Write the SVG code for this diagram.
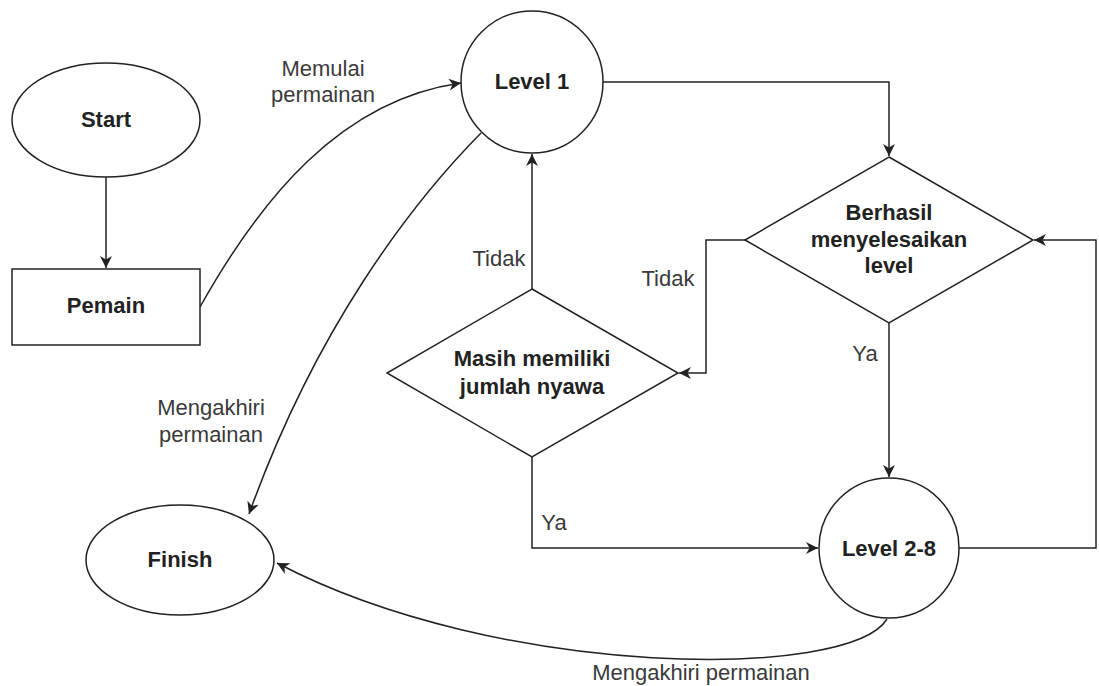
<svg xmlns="http://www.w3.org/2000/svg" width="1099" height="686" viewBox="0 0 1099 686">
<style>
.shape{fill:#fff;stroke:#222;stroke-width:1.5}
.edge{fill:none;stroke:#222;stroke-width:1.5}
.node{font-family:"Liberation Sans",Arial,sans-serif;font-size:22px;font-weight:bold;fill:#222;text-anchor:middle}
.lbl{font-family:"Liberation Sans",Arial,sans-serif;font-size:22px;fill:#3a3a3a;text-anchor:middle}
</style>
<defs>
<marker id="arr" markerUnits="userSpaceOnUse" markerWidth="14" markerHeight="12" refX="12" refY="6" orient="auto">
<path d="M0,0 L12,6 L0,12 L3.5,6 z" fill="#222"/>
</marker>
</defs>
<rect width="1099" height="686" fill="#fff"/>
<g id="connectors">
<path class="edge" d="M106,177 L106,268" marker-end="url(#arr)"/>
<path class="edge" d="M200,307 C260,200 340,100 461,83" marker-end="url(#arr)"/>
<path class="edge" d="M603,82 L889,82 L889,156" marker-end="url(#arr)"/>
<path class="edge" d="M532,289 L532,154" marker-end="url(#arr)"/>
<path class="edge" d="M745,240 L706,240 L706,373 L679,373" marker-end="url(#arr)"/>
<path class="edge" d="M889,323 L889,477" marker-end="url(#arr)"/>
<path class="edge" d="M532,457 L532,548 L818,548" marker-end="url(#arr)"/>
<path class="edge" d="M959,548 L1096,548 L1096,240 L1034,240" marker-end="url(#arr)"/>
<path class="edge" d="M481,133 C410,205 315,330 249,514" marker-end="url(#arr)"/>
<path class="edge" d="M887,619 C850,680 500,680 277,563" marker-end="url(#arr)"/>
<text class="lbl" x="323" y="76">Memulai</text>
<text class="lbl" x="323" y="102">permainan</text>
<text class="lbl" x="499" y="266">Tidak</text>
<text class="lbl" x="668" y="286">Tidak</text>
<text class="lbl" x="865" y="361">Ya</text>
<text class="lbl" x="554" y="530">Ya</text>
<text class="lbl" x="211" y="415">Mengakhiri</text>
<text class="lbl" x="211" y="442">permainan</text>
<text class="lbl" x="701" y="680">Mengakhiri permainan</text>
</g>
<g id="start">
<ellipse class="shape" cx="106" cy="120" rx="94" ry="57"/>
<text class="node" x="106" y="127">Start</text>
</g>
<g id="pemain">
<rect class="shape" x="12" y="269" width="188" height="76"/>
<text class="node" x="106" y="313">Pemain</text>
</g>
<g id="level1">
<circle class="shape" cx="532" cy="82" r="71"/>
<text class="node" x="532" y="89">Level 1</text>
</g>
<g id="berhasil">
<polygon class="shape" points="889,157 1033,240 889,323 745,240"/>
<text class="node" x="889" y="220">Berhasil</text>
<text class="node" x="889" y="247">menyelesaikan</text>
<text class="node" x="889" y="273">level</text>
</g>
<g id="masih">
<polygon class="shape" points="532,289 678,373 532,457 387,373"/>
<text class="node" x="532" y="366">Masih memiliki</text>
<text class="node" x="532" y="394">jumlah nyawa</text>
</g>
<g id="level28">
<circle class="shape" cx="889" cy="548" r="70"/>
<text class="node" x="889" y="556">Level 2-8</text>
</g>
<g id="finish">
<ellipse class="shape" cx="180" cy="560" rx="94" ry="55"/>
<text class="node" x="180" y="567">Finish</text>
</g>
</svg>
